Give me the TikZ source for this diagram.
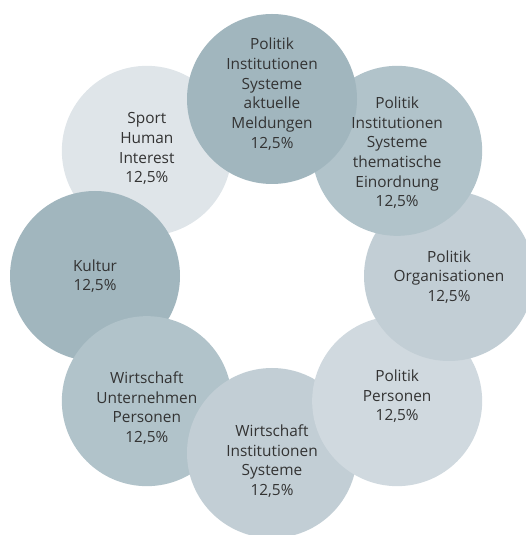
\documentclass[tikz,border=0pt]{standalone}
\usepackage{fontspec}
\setmainfont{Open Sans}
\usetikzlibrary{calc,backgrounds}
\definecolor{slate}{HTML}{A1B6BE}
\definecolor{slatemid}{HTML}{B1C3CA}
\definecolor{slatelight}{HTML}{C2CED5}
\definecolor{slatepale}{HTML}{D0D9DF}
\definecolor{slatefog}{HTML}{DFE5E9}
\definecolor{txt}{HTML}{333333}
\tikzset{bubble/.style={circle,minimum size=170pt,inner sep=0pt},
 bubbletext/.style={align=center,inner sep=0pt,text=txt,font=\fontsize{15.4}{19.7}\selectfont}}

\begin{document}
\begin{tikzpicture}[x=1pt,y=1pt]
\useasboundingbox (0,0) rectangle (526,535);
\clip (0,0) rectangle (526,535);
\coordinate (mid) at (272,259);
% circles go counter-clockwise on the background, each lying on the one before
\foreach \ang/\col/\dy/\nm/\txt in {
 135/slatefog/2/sport/{Sport\\Human\\Interest\\12,5\%},
 180/slate/0/kultur/{Kultur\\12,5\%},
 225/slatemid/-7/wiuntern/{Wirtschaft\\Unternehmen\\Personen\\12,5\%},
 270/slatelight/-8/wiinst/{Wirtschaft\\Institutionen\\Systeme\\12,5\%},
 315/slatepale/5/popers/{Politik\\Personen\\12,5\%},
 0/slatelight/-1/poorg/{Politik\\Organisationen\\12,5\%},
 45/slatemid/-2/pothem/{Politik\\Institutionen\\Systeme\\thematische\\Einordnung\\12,5\%},
 90/slate/5/poakt/{Politik\\Institutionen\\Systeme\\aktuelle\\Meldungen\\12,5\%}}{
 \begin{pgfonlayer}{background}
 \node[bubble,fill=\col] (\nm) at ($(mid)+(\ang:177)$) {};
 \end{pgfonlayer}
 \node[bubbletext] (\nm-txt) at ($(mid)+(\ang:177)+(0,\dy)$) {\txt};}
\end{tikzpicture}
\end{document}
